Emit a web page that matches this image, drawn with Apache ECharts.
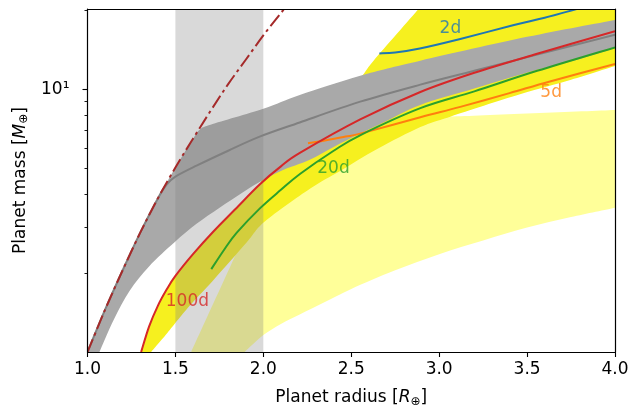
<!DOCTYPE html>
<html><head><meta charset="utf-8">
<script src="https://cdn.jsdelivr.net/npm/echarts@6/dist/echarts.min.js"></script>
<style>html,body{margin:0;padding:0;background:#fff}#c{width:644px;height:405px}</style>
</head><body><div id="c"></div>
<script>
// ---- axis settings ----
const xRange = [1.0, 4.0];
const xTickStep = 0.5;
const yRange = [1.0, 20.3];
const yMajorTicks = [10];
const yMinorTicks = [2, 3, 4, 5, 6, 7, 8, 9, 20];
const yTickLabels = {10: '10¹'};

// ---- curves (radius, mass) ----
const ironCurve = [[1.0,1.0],[1.1,1.45],[1.2,2.05],[1.3,2.85],[1.4,3.85],[1.5,5.05],[1.6,6.5],[1.7,8.3],[1.8,10.5],[1.9,13.0],[2.0,16.1],[2.1,19.6],[2.15,21.5]];
const medianLine = [[1.0,1.0],[1.1,1.45],[1.2,2.05],[1.3,2.85],[1.4,3.85],[1.45,4.35],[1.5,4.66],[1.62,5.13],[1.8,5.85],[1.979,6.62],[2.207,7.5],[2.551,9.0],[2.893,10.45],[3.2,11.8],[3.557,13.6],[4.0,16.2]];
const line2d = [[2.66,13.75],[2.75,13.85],[2.89,14.35],[3.12,15.6],[3.42,17.6],[3.6,18.8],[3.82,20.6]];
const line5d = [[2.254,6.25],[2.35,6.4],[2.456,6.6],[2.551,6.8],[2.893,7.85],[3.12,8.6],[3.4,9.7],[3.63,10.75],[4.0,12.53]];
const line20d = [[1.704,2.07],[1.78,2.47],[1.849,2.85],[1.979,3.52],[2.1,4.15],[2.21,4.78],[2.4,5.85],[2.55,6.7],[2.893,8.5],[3.2,9.85],[3.557,11.8],[4.0,14.5]];
const line100d = [[1.305,1.0],[1.35,1.25],[1.4,1.5],[1.45,1.73],[1.5,1.95],[1.6,2.36],[1.716,2.88],[1.84,3.5],[1.979,4.35],[2.1,5.1],[2.21,5.75],[2.551,7.7],[2.893,9.8],[3.2,11.6],[3.557,13.7],[4.0,16.7]];

// ---- shaded regions: edges (each edge drawn as a smooth path) ----
const grayUpper = [[1.0,1.0],[1.1,1.45],[1.2,2.05],[1.3,2.85],[1.4,3.85],[1.5,5.05],[1.6,6.5],[1.64,7.05],[1.7,7.35],[2.0,8.45],[2.207,9.54],[2.551,11.3],[2.893,12.9],[3.5,15.9],[4.0,18.45]];
const grayLower = [[4.0,14.4],[3.8,13.1],[3.557,11.9],[3.2,10.1],[2.893,8.75],[2.7,7.6],[2.551,6.8],[2.4,6.05],[2.264,5.4],[2.1,4.9],[1.979,4.45],[1.88,4.05],[1.751,3.55],[1.62,3.08],[1.495,2.62],[1.35,2.12],[1.239,1.71],[1.15,1.33],[1.068,1.0]];

const brightLower = [[1.362,1.0],[1.43,1.13],[1.495,1.28],[1.6,1.55],[1.713,1.87],[1.906,2.62],[2.01,3.15],[2.267,4.2],[2.437,4.9],[2.65,5.95],[2.893,7.2],[3.063,7.89],[3.46,9.6],[3.75,10.9],[4.0,12.3]];
const brightRight = [[4.0,12.3],[4.0,20.3],[2.883,20.3]];
const brightUpper = [[2.883,20.3],[2.627,12.9],[2.551,11.1],[2.4,9.0],[2.2,6.6],[2.0,4.6],[1.979,4.35],[1.84,3.5],[1.716,2.88],[1.6,2.36],[1.5,1.95],[1.45,1.73],[1.4,1.5],[1.35,1.25],[1.305,1.0]];

const paleLeft = [[1.59,1.0],[1.922,3.07]];
const paleHidden = [[1.922,3.07],[2.0,3.5],[2.2,4.6],[2.5,6.0],[2.8,7.6],[3.0,7.95]];
const paleTop = [[3.0,7.95],[3.063,7.9],[4.0,8.37]];
const paleRight = [[4.0,8.37],[4.0,3.55]];
const paleLower = [[4.0,3.55],[3.75,3.27],[3.5,2.98],[3.25,2.66],[3.0,2.36],[2.75,2.05],[2.5,1.74],[2.35,1.55],[2.207,1.39],[2.1,1.28],[2.0,1.16],[1.894,1.0]];

const bandEdges = [[[1.5,1.0],[2.0,1.0]],[[2.0,20.3],[1.5,20.3]]];

// ---- in-plot labels ----
const curveLabels = [[3.064,17.05,'2d','#1f77b4'],[3.637,9.78,'5d','#ff7f0e'],[2.399,5.0,'20d','#2ca02c'],[1.568,1.55,'100d','#d62728']];

const FONT = 'DejaVu Sans';

function pathThrough(pts){
  let d='';
  for(let i=0;i<pts.length-1;i++){
    const p0=pts[i-1]||pts[i], p1=pts[i], p2=pts[i+1], p3=pts[i+2]||p2;
    const c1=[p1[0]+(p2[0]-p0[0])/6, p1[1]+(p2[1]-p0[1])/6];
    const c2=[p2[0]-(p3[0]-p1[0])/6, p2[1]-(p3[1]-p1[1])/6];
    d+=' C'+c1[0]+','+c1[1]+' '+c2[0]+','+c2[1]+' '+p2[0]+','+p2[1];
  }
  return d;
}

function clipRect(params){
  const cs=params.coordSys;
  return {type:'rect', shape:{x:cs.x,y:cs.y,width:cs.width,height:cs.height}};
}

function regionSeries(edges, color, z){
  return {
    type:'custom', coordinateSystem:'cartesian2d', z:z, silent:true,
    data: edges[0],
    renderItem: function(params, api){
      if(params.dataIndex!==0) return null;
      let d='';
      edges.forEach(function(e,k){
        const pts=e.map(function(p){return api.coord(p);});
        d += (k===0?'M':' L')+pts[0][0]+','+pts[0][1];
        d += pathThrough(pts);
      });
      d += ' Z';
      return {type:'path', shape:{pathData:d}, style:{fill:color, stroke:null}, clipPath:clipRect(params)};
    }
  };
}

function lineSeries(data, color, z, dash){
  return {
    type:'custom', coordinateSystem:'cartesian2d', z:z, silent:true,
    data: data,
    renderItem: function(params, api){
      if(params.dataIndex!==0) return null;
      const pts=data.map(function(p){return api.coord(p);});
      const d='M'+pts[0][0]+','+pts[0][1]+pathThrough(pts);
      return {type:'path', shape:{pathData:d},
        style:{fill:null, stroke:color, lineWidth:2, lineDash:dash||null, lineCap:'butt', lineJoin:'round'},
        clipPath:clipRect(params)};
    }
  };
}

const chart = echarts.init(document.getElementById('c'), null, {renderer:'canvas'});
const axisLineStyle = {color:'#000', width:1.2};
chart.setOption({
  animation:false,
  backgroundColor:'#fff',
  grid:{left:87.5, right:29, top:9, bottom:53, outerBoundsMode:'none', containLabel:false},
  xAxis:[{
    type:'value', min:xRange[0], max:xRange[1], interval:xTickStep, z:10,
    name:'Planet radius [{i|R}{s|⊕}]', nameLocation:'middle', nameGap:36,
    nameTextStyle:{fontFamily:FONT, fontSize:17, color:'#000',
      rich:{i:{fontFamily:FONT, fontSize:17, fontStyle:'italic', color:'#000'},
            s:{fontFamily:FONT, fontSize:12, color:'#000', padding:[8,0,0,0]}}},
    axisLine:{show:true, lineStyle:axisLineStyle, onZero:false},
    axisTick:{show:true, length:5, lineStyle:{color:'#000', width:1.1}},
    axisLabel:{fontFamily:FONT, fontSize:17, color:'#000', margin:9, formatter:function(v){return v.toFixed(1);}},
    splitLine:{show:false}
  },{
    type:'value', position:'top', min:xRange[0], max:xRange[1], z:10,
    axisLine:{show:true, lineStyle:axisLineStyle, onZero:false},
    axisTick:{show:false}, axisLabel:{show:false}, splitLine:{show:false}
  }],
  yAxis:[{
    type:'log', logBase:10, min:yRange[0], max:yRange[1], z:10,
    name:'Planet mass [{i|M}{s|⊕}]', nameLocation:'middle', nameGap:54, nameRotate:90,
    nameTextStyle:{fontFamily:FONT, fontSize:17, color:'#000',
      rich:{i:{fontFamily:FONT, fontSize:17, fontStyle:'italic', color:'#000'},
            s:{fontFamily:FONT, fontSize:12, color:'#000', padding:[8,0,0,0]}}},
    axisLine:{show:true, lineStyle:axisLineStyle, onZero:false},
    axisTick:{show:true, length:5, customValues:yMajorTicks, lineStyle:{color:'#000', width:1.1}},
    axisLabel:{fontFamily:FONT, fontSize:17, color:'#000', margin:18, customValues:yMajorTicks,
      formatter:function(v){return yTickLabels[Math.round(v)]||'';}},
    splitLine:{show:false}
  },{
    type:'log', logBase:10, min:yRange[0], max:yRange[1], position:'left', z:10,
    axisLine:{show:false},
    axisTick:{show:true, length:3, customValues:yMinorTicks, lineStyle:{color:'#000', width:0.9}},
    axisLabel:{show:false}, splitLine:{show:false}
  },{
    type:'log', logBase:10, min:yRange[0], max:yRange[1], position:'right', z:10,
    axisLine:{show:true, lineStyle:axisLineStyle, onZero:false},
    axisTick:{show:false}, axisLabel:{show:false}, splitLine:{show:false}
  }],
  series:[
    regionSeries([paleLeft, paleHidden, paleTop, paleRight, paleLower], '#ffff99', 1),
    regionSeries([brightLower, brightRight, brightUpper], '#f6f01f', 2),
    regionSeries([grayUpper, grayLower], '#a9a9a9', 3),
    regionSeries(bandEdges, 'rgba(128,128,128,0.3)', 4),
    lineSeries(medianLine, '#808080', 5),
    lineSeries(ironCurve, '#a52a2a', 6, [14,4,3,4]),
    lineSeries(line2d, '#1f77b4', 6),
    lineSeries(line5d, '#ff7f0e', 6),
    lineSeries(line20d, '#2ca02c', 6),
    lineSeries(line100d, '#d62728', 6),
    {type:'scatter', z:7, silent:true, symbolSize:1, itemStyle:{color:'rgba(0,0,0,0)'},
      data: curveLabels.map(function(l){return {value:[l[0],l[1]], name:l[2],
        label:{color:l[3]}};}),
      label:{show:true, position:'inside', fontFamily:FONT, fontSize:17,
        formatter:function(p){return p.name;}}}
  ]
});
</script></body></html>
